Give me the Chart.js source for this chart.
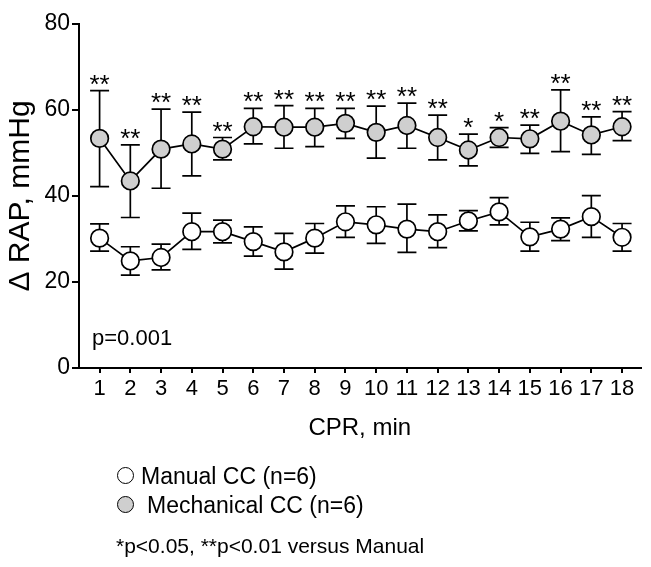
<!DOCTYPE html>
<html>
<head>
<meta charset="utf-8">
<script src="https://cdn.jsdelivr.net/npm/chart.js@4.4.1/dist/chart.umd.min.js"></script>
<style>
  html, body { margin: 0; padding: 0; background: #fff; }
  #wrap { position: relative; width: 651px; height: 567px; font-family: "Liberation Sans", Arial, sans-serif; color: #000; }
  canvas { position: absolute; left: 0; top: 0; }
  .note { position: absolute; white-space: nowrap; line-height: 1; }
  .dot { position: absolute; width: 17px; height: 17px; border: 1.6px solid #000; border-radius: 50%; box-sizing: border-box; }
</style>
</head>
<body>
<div id="wrap">
  <canvas id="c" width="651" height="567"></canvas>
  <div class="note" id="pval" style="left:92px; top:327px; font-size:22px;">p=0.001</div>
  <div class="dot" style="left:117px; top:467px; background:#fff;"></div>
  <div class="note" style="left:141px; top:465px; font-size:23px;">Manual CC (n=6)</div>
  <div class="dot" style="left:117px; top:496px; background:#cfcfcf;"></div>
  <div class="note" style="left:147px; top:494px; font-size:23px;">Mechanical CC (n=6)</div>
  <div class="note" style="left:116px; top:535px; font-size:21px;">*p&lt;0.05, **p&lt;0.01 versus Manual</div>
</div>
<script>
const minutes = [1, 2, 3, 4, 5, 6, 7, 8, 9, 10, 11, 12, 13, 14, 15, 16, 17, 18];
const yTicks = [0, 20, 40, 60, 80];

const manualMean = [30.2, 24.9, 25.7, 31.7, 31.7, 29.4, 27.0, 30.2, 34.0, 33.3, 32.3, 31.7, 34.2, 36.3, 30.5, 32.3, 35.2, 30.4];
const manualHi   = [33.5, 28.2, 28.8, 36.0, 34.4, 32.8, 31.3, 33.6, 37.7, 37.5, 38.1, 35.6, 36.6, 39.6, 33.9, 34.9, 40.1, 33.6];
const manualLo   = [27.2, 21.6, 22.8, 27.6, 29.1, 26.0, 23.0, 26.7, 30.4, 29.0, 26.9, 28.0, 31.9, 33.3, 27.2, 29.6, 30.4, 27.2];

const mechMean = [53.4, 43.5, 50.9, 52.1, 50.9, 56.1, 56.0, 56.0, 56.9, 54.8, 56.4, 53.6, 50.7, 53.6, 53.3, 57.4, 54.2, 56.1];
const mechHi   = [64.5, 51.9, 60.2, 59.5, 53.6, 60.4, 61.0, 60.4, 60.4, 60.9, 61.6, 58.8, 54.4, 55.9, 56.5, 64.7, 58.4, 59.6];
const mechLo   = [42.2, 35.0, 41.8, 44.7, 48.4, 52.1, 51.1, 51.5, 53.4, 48.8, 51.1, 48.4, 47.0, 51.3, 49.9, 50.3, 49.7, 52.9];

const stars = ['**', '**', '**', '**', '**', '**', '**', '**', '**', '**', '**', '**', '*', '*', '**', '**', '**', '**'];

const FONT = '"Liberation Sans", Arial, sans-serif';

const errorBars = {
  id: 'errorBars',
  beforeDatasetsDraw(chart) {
    const ctx = chart.ctx, xs = chart.scales.x, ys = chart.scales.y;
    const sets = [[manualHi, manualLo], [mechHi, mechLo]];
    ctx.save();
    ctx.strokeStyle = '#000';
    ctx.lineWidth = 1.7;
    sets.forEach(([hi, lo]) => {
      minutes.forEach((m, i) => {
        const x = xs.getPixelForValue(m);
        const yh = ys.getPixelForValue(hi[i]);
        const yl = ys.getPixelForValue(lo[i]);
        ctx.beginPath();
        ctx.moveTo(x, yh); ctx.lineTo(x, yl);
        ctx.moveTo(x - 9.5, yh); ctx.lineTo(x + 9.5, yh);
        ctx.moveTo(x - 9.5, yl); ctx.lineTo(x + 9.5, yl);
        ctx.stroke();
      });
    });
    ctx.restore();
  },
  afterDatasetsDraw(chart) {
    const ctx = chart.ctx, xs = chart.scales.x, ys = chart.scales.y;
    ctx.save();
    ctx.fillStyle = '#000';
    ctx.font = '26px ' + FONT;
    ctx.textAlign = 'center';
    ctx.textBaseline = 'alphabetic';
    minutes.forEach((m, i) => {
      const x = xs.getPixelForValue(m);
      const y = ys.getPixelForValue(mechHi[i]);
      ctx.fillText(stars[i], x, y + 2);
    });
    ctx.restore();
  }
};

new Chart(document.getElementById('c'), {
  type: 'line',
  data: {
    datasets: [
      {
        label: 'Manual CC (n=6)',
        data: minutes.map((m, i) => ({ x: m, y: manualMean[i] })),
        borderColor: '#000', borderWidth: 1.7,
        pointBackgroundColor: '#fff', pointBorderColor: '#000',
        pointRadius: 8.8, pointBorderWidth: 1.7, pointHoverRadius: 8.8,
        tension: 0
      },
      {
        label: 'Mechanical CC (n=6)',
        data: minutes.map((m, i) => ({ x: m, y: mechMean[i] })),
        borderColor: '#000', borderWidth: 1.7,
        pointBackgroundColor: '#cfcfcf', pointBorderColor: '#000',
        pointRadius: 8.8, pointBorderWidth: 1.7, pointHoverRadius: 8.8,
        tension: 0
      }
    ]
  },
  options: {
    responsive: false,
    animation: false,
    layout: { padding: { left: 0, right: 1, top: 24, bottom: 124 } },
    plugins: { legend: { display: false }, tooltip: { enabled: false } },
    scales: {
      x: {
        type: 'linear', min: 0.33, max: 18.6,
        afterBuildTicks: s => { s.ticks = minutes.map(v => ({ value: v })); },
        afterFit: s => { s.height = 75; },
        border: { display: true, color: '#000', width: 2 },
        grid: { drawOnChartArea: false, drawTicks: true, tickLength: 5, color: '#000', lineWidth: 2 },
        ticks: { color: '#000', font: { family: FONT, size: 22 }, padding: 3, maxRotation: 0, autoSkip: false },
        title: { display: true, text: 'CPR, min', color: '#000', font: { family: FONT, size: 24 }, padding: { top: 0, bottom: 0 } }
      },
      y: {
        type: 'linear', min: 0, max: 80,
        afterBuildTicks: s => { s.ticks = yTicks.map(v => ({ value: v })); },
        afterFit: s => { s.width = 79; },
        border: { display: true, color: '#000', width: 2 },
        grid: { drawOnChartArea: false, drawTicks: true, tickLength: 7, color: '#000', lineWidth: 2 },
        ticks: { color: '#000', font: { family: FONT, size: 23 }, padding: 2 },
        title: { display: true, text: '\u0394 RAP, mmHg', color: '#000', font: { family: FONT, size: 30 }, padding: { top: 3, bottom: 0 } }
      }
    }
  },
  plugins: [errorBars]
});
</script>
</body>
</html>
